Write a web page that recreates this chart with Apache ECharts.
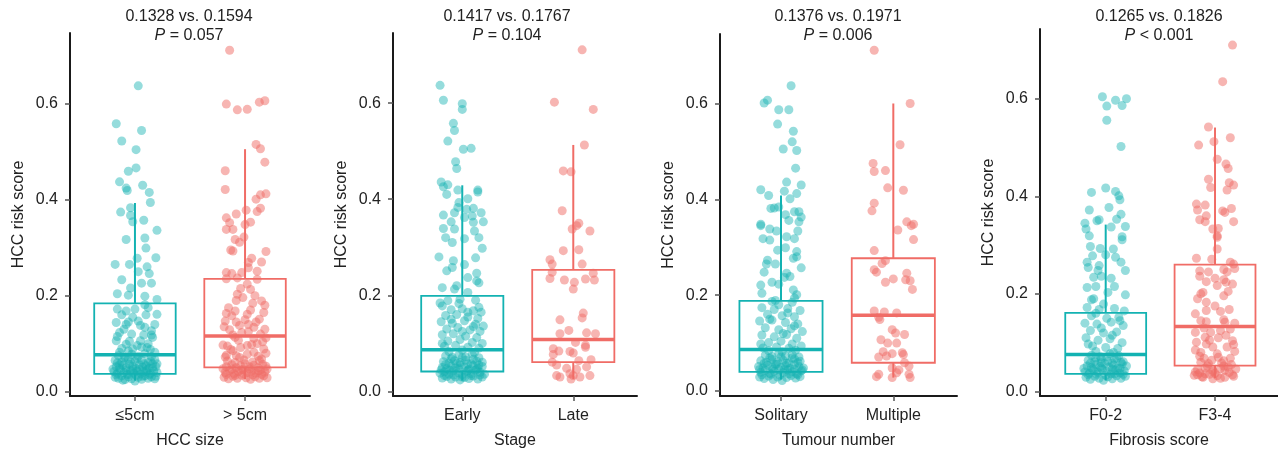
<!DOCTYPE html>
<html>
<head>
<meta charset="utf-8">
<script src="https://cdn.jsdelivr.net/npm/echarts@6/dist/echarts.min.js"></script>
<style>
  html, body { margin: 0; padding: 0; background: #fff; }
  #chart { width: 1278px; height: 454px; }
</style>
</head>
<body>
<div id="chart"></div>
<script>
// categories / titles
const sizeCats = ['≤5cm', '> 5cm']
const stageCats = ['Early', 'Late']
const tumourCats = ['Solitary', 'Multiple']
const fibrosisCats = ['F0-2', 'F3-4']
const axisNames = ['HCC size', 'Stage', 'Tumour number', 'Fibrosis score']
const meanTexts = ['0.1328 vs. 0.1594', '0.1417 vs. 0.1767', '0.1376 vs. 0.1971', '0.1265 vs. 0.1826']
const pTexts = ['= 0.057', '= 0.104', '= 0.006', '< 0.001']
const yTicks = [0, 0.2, 0.4, 0.6]

// box stats: [lower whisker, Q1, median, Q3, upper whisker]
const sizeSmallBox = [0.023, 0.037, 0.077, 0.184, 0.393]
const sizeLargeBox = [0.026, 0.0505, 0.116, 0.235, 0.505]
const stageEarlyBox = [0.023, 0.0415, 0.087, 0.199, 0.429]
const stageLateBox = [0.026, 0.061, 0.108, 0.253, 0.513]
const tumourSolitaryBox = [0.024, 0.040, 0.0865, 0.188, 0.408]
const tumourMultipleBox = [0.028, 0.059, 0.158, 0.277, 0.600]
const fibrosisLowBox = [0.0225, 0.036, 0.0757, 0.161, 0.342]
const fibrosisHighBox = [0.027, 0.053, 0.133, 0.260, 0.541]

// jittered points: [jitter offset, risk score]
const sizeSmallPts = [
  [0.03,0.637],[-0.17,0.558],[0.06,0.544],[-0.12,0.522],[0.01,0.504],[-0.06,0.459],[0.01,0.466],[-0.14,0.437],[0.07,0.430],[-0.08,0.424],
  [-0.07,0.419],[0.13,0.415],[0.14,0.394],[-0.13,0.374],[-0.04,0.383],[-0.04,0.367],[-0.02,0.354],[0.08,0.357],[0.20,0.336],[-0.08,0.317],
  [0.09,0.320],[0.10,0.299],[0.02,0.278],[0.19,0.279],[-0.18,0.265],[-0.05,0.265],[0.11,0.260],[0.13,0.246],[0.03,0.250],[-0.12,0.233],
  [0.06,0.226],[0.15,0.226],[-0.04,0.216],[-0.16,0.204],[-0.06,0.201],[0.09,0.199],[0.20,0.192],[0.09,0.181],
  [-0.16,0.172],[-0.08,0.168],[0.20,0.161],[0.03,0.147],[-0.17,0.144],[-0.08,0.140],[0.09,0.134],[0.15,0.127],[-0.14,0.123],[-0.03,0.120],
  [0.16,0.113],[-0.17,0.106],[0.05,0.106],[-0.08,0.099],[0.11,0.092],[-0.02,0.089],[-0.14,0.082],[0.18,0.082],
  [-0.18,0.030],[-0.15,0.028],[-0.12,0.033],[-0.09,0.025],[-0.06,0.031],[-0.03,0.027],[0.00,0.022],[0.03,0.030],[0.06,0.026],[0.09,0.033],
  [0.12,0.028],[0.15,0.031],[0.18,0.027],[-0.19,0.042],[-0.16,0.038],[-0.13,0.045],[-0.10,0.040],[-0.07,0.036],[-0.04,0.044],[-0.01,0.039],
  [0.02,0.043],[0.05,0.037],[0.08,0.041],[0.11,0.046],[0.14,0.038],[0.17,0.043],[0.20,0.040],[-0.17,0.052],[-0.14,0.049],[-0.11,0.055],
  [-0.08,0.050],[-0.05,0.057],[-0.02,0.053],[0.01,0.048],[0.04,0.056],[0.07,0.051],[0.10,0.054],[0.13,0.049],[0.16,0.058],[0.19,0.052],
  [-0.18,0.065],[-0.12,0.062],[-0.06,0.068],[0.00,0.063],[0.06,0.066],[0.12,0.061],[0.18,0.067],[-0.15,0.075],[-0.09,0.072],[-0.03,0.078],
  [0.03,0.074],[0.09,0.079],[0.15,0.073],[-0.12,0.090],[0.06,0.093],[-0.05,0.105],[0.12,0.100],[0.15,0.118],[-0.10,0.130],[0.05,0.138],
  [-0.02,0.155],[0.10,0.160],[0.00,0.172],
  [-0.17,0.035],[-0.11,0.024],[-0.05,0.036],[0.01,0.034],[0.07,0.032],[0.13,0.035],[0.19,0.032],[-0.20,0.047],[-0.14,0.056],[-0.08,0.045],
  [-0.02,0.046],[0.04,0.047],[0.10,0.043],[0.16,0.050],[-0.16,0.060],[-0.10,0.070],[-0.04,0.062],[0.02,0.069],[0.08,0.058],[0.14,0.064],
  [0.20,0.058],[-0.06,0.085],[0.02,0.096],[0.14,0.088],[-0.16,0.115],[0.08,0.118],[-0.06,0.145],[0.18,0.140],[-0.12,0.160],[0.12,0.175]
]
const sizeLargePts = [
  [-0.14,0.711],[-0.17,0.599],[-0.07,0.587],[0.02,0.588],[0.13,0.603],[0.18,0.606],[0.10,0.515],[0.14,0.506],[0.18,0.478],[-0.18,0.460],
  [-0.18,0.421],[0.14,0.410],[0.19,0.412],[0.10,0.401],[0.01,0.378],[-0.08,0.370],[0.14,0.382],[0.11,0.375],[-0.17,0.362],[0.05,0.353],
  [0.00,0.348],[-0.17,0.338],[-0.11,0.338],[-0.14,0.352],[-0.01,0.322],[-0.09,0.317],[-0.05,0.311],[-0.13,0.295],[-0.11,0.293],[0.19,0.292],
  [0.06,0.278],[0.03,0.269],[0.15,0.270],[0.11,0.251],[-0.17,0.248],[-0.12,0.246],[-0.03,0.248],[0.03,0.258],[0.11,0.234],[-0.07,0.237],
  [-0.17,0.235],[0.02,0.224],[0.05,0.213],[-0.07,0.203],[-0.02,0.196],[0.15,0.189],[0.07,0.184],[-0.17,0.163],[-0.09,0.168],[0.02,0.161],
  [0.17,0.165],[0.13,0.151],[-0.18,0.147],[-0.08,0.145],[0.03,0.140],[0.08,0.134],[0.18,0.130],[-0.14,0.129],[-0.03,0.123],[-0.09,0.113],
  [0.08,0.111],[-0.20,0.097],[0.02,0.096],[0.17,0.089],[-0.11,0.085],[0.08,0.082],[-0.17,0.076],[-0.05,0.071],[0.15,0.068],
  [-0.19,0.030],[-0.15,0.027],[-0.11,0.032],[-0.07,0.028],[-0.03,0.034],[0.01,0.029],[0.05,0.026],[0.09,0.031],[0.13,0.028],[0.17,0.033],
  [0.20,0.029],[-0.18,0.040],[-0.14,0.044],[-0.10,0.038],[-0.06,0.042],[-0.02,0.046],[0.02,0.040],[0.06,0.043],[0.10,0.039],[0.14,0.045],
  [0.18,0.041],[-0.17,0.052],[-0.12,0.056],[-0.08,0.050],[-0.04,0.054],[0.00,0.058],[0.04,0.052],[0.08,0.055],[0.12,0.050],[0.16,0.057],
  [0.19,0.053],[-0.16,0.064],[-0.09,0.061],[-0.01,0.066],[0.07,0.062],[0.13,0.065],[-0.13,0.088],[0.11,0.100],[-0.06,0.107],[0.14,0.120],
  [0.00,0.150],[-0.15,0.175],[0.09,0.200],[-0.04,0.215],
  [-0.17,0.036],[-0.09,0.034],[-0.01,0.037],[0.07,0.035],[0.15,0.036],[-0.20,0.048],[-0.12,0.047],[-0.04,0.045],[0.04,0.047],[0.12,0.044],
  [0.20,0.047],[-0.18,0.072],[-0.08,0.075],[0.02,0.078],[0.12,0.074],[0.19,0.080],[-0.16,0.095],[-0.04,0.092],[0.06,0.098],[0.16,0.104],
  [-0.11,0.118],[0.03,0.125],[0.19,0.112],[-0.19,0.135],[-0.05,0.138],[0.10,0.145],[-0.12,0.158],[0.05,0.170],[0.18,0.180],[-0.08,0.190]
]
const stageEarlyPts = [
  [-0.20,0.637],[-0.17,0.606],[0.00,0.599],[0.00,0.587],[-0.08,0.558],[-0.07,0.543],[-0.13,0.521],[0.01,0.504],[0.08,0.506],[-0.06,0.478],
  [-0.05,0.464],[-0.19,0.436],[-0.17,0.426],[-0.13,0.430],[-0.14,0.410],[-0.04,0.419],[0.14,0.419],[0.14,0.415],[0.05,0.401],[-0.03,0.393],
  [-0.17,0.367],[-0.07,0.372],[-0.04,0.383],[0.04,0.379],[0.10,0.381],[0.17,0.372],[0.02,0.362],[0.09,0.365],[-0.10,0.353],[-0.07,0.338],
  [-0.17,0.339],[0.10,0.352],[0.11,0.334],[0.19,0.353],[-0.15,0.320],[-0.09,0.310],[0.02,0.318],[0.15,0.320],[0.18,0.298],[-0.21,0.280],
  [0.12,0.278],[-0.08,0.272],[0.02,0.264],[-0.14,0.251],[-0.09,0.258],[0.13,0.246],[0.05,0.237],[0.15,0.226],[0.13,0.230],[-0.18,0.216],
  [-0.07,0.213],[-0.05,0.220],[0.05,0.206],[-0.02,0.192],[-0.20,0.184],[-0.13,0.189],[0.15,0.175],
  [-0.18,0.178],[-0.10,0.170],[0.00,0.172],[0.10,0.168],[0.17,0.165],[-0.15,0.158],[-0.05,0.160],[0.05,0.155],[0.14,0.152],[-0.19,0.145],
  [-0.09,0.142],[0.02,0.147],[0.12,0.140],[0.19,0.136],[-0.14,0.130],[-0.04,0.133],[0.07,0.128],[0.16,0.125],[-0.18,0.118],[-0.08,0.120],
  [0.03,0.115],[0.13,0.112],[-0.13,0.105],[-0.02,0.108],[0.09,0.102],[0.18,0.100],[-0.16,0.094],[-0.06,0.096],[0.05,0.092],[0.15,0.090],
  [-0.18,0.028],[-0.14,0.031],[-0.10,0.026],[-0.06,0.030],[-0.02,0.024],[0.02,0.029],[0.06,0.027],[0.10,0.032],[0.14,0.026],[0.18,0.030],
  [-0.20,0.038],[-0.16,0.041],[-0.12,0.036],[-0.08,0.043],[-0.04,0.039],[0.00,0.035],[0.04,0.042],[0.08,0.037],[0.12,0.044],[0.16,0.040],
  [0.20,0.036],[-0.18,0.050],[-0.14,0.047],[-0.10,0.053],[-0.06,0.049],[-0.02,0.055],[0.02,0.051],[0.06,0.046],[0.10,0.054],[0.14,0.048],
  [0.18,0.052],[-0.17,0.062],[-0.12,0.059],[-0.07,0.064],[-0.02,0.060],[0.03,0.065],[0.08,0.058],[0.13,0.063],[0.18,0.061],[-0.15,0.074],
  [-0.09,0.071],[-0.03,0.076],[0.03,0.072],[0.09,0.077],[0.15,0.070],[-0.12,0.083],[0.00,0.086],[0.11,0.081],
  [-0.16,0.033],[-0.08,0.034],[0.00,0.030],[0.08,0.033],[0.16,0.034],[-0.19,0.045],[-0.11,0.044],[-0.03,0.047],[0.05,0.044],[0.13,0.046],
  [-0.15,0.056],[-0.05,0.058],[0.05,0.057],[0.15,0.055],[-0.10,0.068],[0.00,0.070],[0.10,0.067],[-0.18,0.100],[0.00,0.125],[0.10,0.135],
  [-0.10,0.150],[0.05,0.165],[-0.03,0.183],[0.12,0.190]
]
const stageLatePts = [
  [0.08,0.711],[-0.17,0.602],[0.18,0.587],[0.10,0.513],[-0.09,0.459],[-0.02,0.457],[-0.10,0.376],[0.05,0.350],[0.03,0.345],[-0.01,0.338],
  [0.15,0.334],[-0.09,0.293],[0.05,0.295],[-0.21,0.274],[-0.19,0.265],[0.08,0.265],[0.18,0.246],[-0.19,0.248],[-0.21,0.235],[-0.08,0.232],
  [0.01,0.227],[0.11,0.234],[0.19,0.232],[0.00,0.213],[0.09,0.163],[0.08,0.153],[-0.12,0.149],[-0.04,0.127],[-0.12,0.120],[0.12,0.122],
  [0.20,0.120],[0.02,0.102],[0.11,0.096],[-0.18,0.089],[-0.13,0.084],[-0.03,0.083],[0.00,0.080],[0.11,0.092],[-0.18,0.077],[0.05,0.064],
  [0.16,0.066],[-0.19,0.061],[-0.15,0.055],[0.12,0.051],[-0.06,0.048],[0.03,0.046],[-0.03,0.037],[-0.15,0.033],[-0.12,0.030],[0.00,0.033],
  [0.06,0.030],[0.15,0.033],[-0.02,0.026]
]
const tumourSolitaryPts = [
  [0.09,0.637],[-0.15,0.601],[-0.12,0.607],[-0.02,0.587],[0.07,0.587],[-0.03,0.557],[0.11,0.542],[0.10,0.520],[0.02,0.505],[0.14,0.502],
  [0.13,0.465],[0.05,0.436],[0.18,0.430],[-0.18,0.420],[-0.11,0.408],[0.03,0.417],[0.14,0.412],[0.08,0.401],[-0.09,0.381],[-0.06,0.382],
  [-0.02,0.384],[0.04,0.368],[0.12,0.374],[0.16,0.374],[0.18,0.363],[0.07,0.356],[-0.18,0.348],[-0.18,0.345],[0.16,0.353],[-0.10,0.338],
  [-0.04,0.334],[0.15,0.334],[-0.16,0.318],[-0.10,0.315],[0.05,0.322],[0.12,0.318],[-0.03,0.294],[0.04,0.299],[0.14,0.291],[0.11,0.277],
  [0.14,0.280],[-0.12,0.273],[-0.13,0.265],[-0.05,0.265],[0.18,0.257],[-0.15,0.248],[0.05,0.246],[0.03,0.237],[0.08,0.239],[-0.08,0.227],
  [-0.18,0.221],[-0.02,0.223],[-0.17,0.204],[0.11,0.211],[0.14,0.201],[0.12,0.194],[-0.08,0.187],[-0.05,0.189],
  [-0.17,0.174],[-0.06,0.170],[0.06,0.172],[0.17,0.168],[-0.12,0.160],[0.01,0.157],[0.12,0.155],[-0.19,0.146],[-0.08,0.148],[0.04,0.143],
  [0.15,0.140],[-0.14,0.132],[-0.02,0.128],[0.09,0.130],[0.19,0.124],[-0.17,0.117],[-0.06,0.113],[0.05,0.118],[0.14,0.110],[-0.11,0.101],
  [0.00,0.104],[0.10,0.098],[0.18,0.094],[-0.16,0.090],[-0.04,0.092],[0.07,0.089],
  [-0.19,0.029],[-0.15,0.026],[-0.11,0.031],[-0.07,0.024],[-0.03,0.029],[0.01,0.022],[0.05,0.028],[0.09,0.032],[0.13,0.027],[0.17,0.030],
  [-0.18,0.039],[-0.14,0.043],[-0.10,0.037],[-0.06,0.041],[-0.02,0.045],[0.02,0.038],[0.06,0.044],[0.10,0.040],[0.14,0.036],[0.18,0.042],
  [-0.20,0.051],[-0.16,0.048],[-0.12,0.054],[-0.08,0.050],[-0.04,0.056],[0.00,0.049],[0.04,0.053],[0.08,0.047],[0.12,0.055],[0.16,0.051],
  [0.20,0.048],[-0.18,0.063],[-0.13,0.060],[-0.08,0.066],[-0.03,0.061],[0.02,0.064],[0.07,0.059],[0.12,0.067],[0.17,0.062],[-0.14,0.075],
  [-0.08,0.072],[-0.02,0.078],[0.04,0.073],[0.10,0.076],[0.16,0.071],[-0.11,0.084],[0.01,0.082],[0.13,0.085],
  [-0.17,0.034],[-0.09,0.035],[-0.01,0.033],[0.07,0.036],[0.15,0.034],[-0.19,0.045],[-0.07,0.046],[0.03,0.045],[0.12,0.046],[0.19,0.044],
  [-0.15,0.058],[-0.05,0.056],[0.05,0.058],[0.15,0.059],[-0.10,0.069],[0.00,0.071],[0.10,0.069],[-0.18,0.098],[0.02,0.120],[0.12,0.136],
  [-0.10,0.150],[0.06,0.163],[-0.02,0.180],[0.10,0.185]
]
const tumourMultiplePts = [
  [-0.17,0.711],[0.15,0.600],[0.06,0.514],[-0.18,0.475],[-0.17,0.458],[-0.07,0.460],[-0.05,0.424],[0.09,0.419],[-0.17,0.392],[-0.19,0.376],
  [0.12,0.353],[0.18,0.348],[0.16,0.345],[0.04,0.336],[0.18,0.316],[-0.17,0.293],[-0.07,0.272],[-0.10,0.266],[-0.17,0.253],[-0.15,0.248],
  [0.00,0.234],[-0.07,0.227],[0.12,0.246],[0.11,0.232],[0.15,0.230],[0.17,0.212],[-0.17,0.167],[-0.08,0.165],[0.03,0.163],[-0.13,0.154],
  [-0.12,0.149],[-0.01,0.128],[0.02,0.121],[0.10,0.118],[-0.11,0.107],[-0.05,0.100],[0.03,0.100],[-0.09,0.082],[-0.01,0.078],[0.08,0.080],
  [0.09,0.076],[-0.13,0.071],[-0.06,0.073],[0.10,0.059],[0.14,0.052],[-0.01,0.048],[0.05,0.044],[0.03,0.038],[-0.13,0.035],[-0.15,0.030],
  [-0.01,0.028],[0.14,0.035],[0.15,0.028]
]
const fibrosisLowPts = [
  [-0.03,0.604],[0.09,0.597],[0.19,0.600],[0.01,0.585],[0.15,0.586],[0.01,0.556],[0.14,0.502],[0.00,0.417],[-0.13,0.408],[0.09,0.410],
  [0.12,0.401],[0.13,0.393],[0.03,0.377],[-0.15,0.372],[0.14,0.363],[-0.08,0.350],[-0.06,0.352],[0.10,0.353],[-0.19,0.345],[-0.18,0.333],
  [0.05,0.337],[0.18,0.338],[-0.15,0.319],[0.15,0.317],[0.15,0.311],[-0.05,0.293],[-0.14,0.297],[0.07,0.292],[0.00,0.280],[-0.12,0.278],
  [0.09,0.275],[-0.17,0.265],[-0.16,0.254],[0.14,0.265],[-0.06,0.258],[-0.07,0.248],[0.18,0.248],[-0.11,0.234],[-0.04,0.236],[0.05,0.232],
  [-0.17,0.213],[-0.09,0.215],[0.08,0.215],[0.02,0.203],[0.18,0.198],[-0.13,0.188],[-0.11,0.190],[-0.02,0.179],
  [-0.17,0.172],[-0.06,0.168],[0.08,0.170],[0.17,0.165],[-0.13,0.155],[0.01,0.150],[0.12,0.152],[-0.19,0.140],[-0.08,0.138],[0.05,0.142],
  [0.16,0.135],[-0.14,0.125],[-0.02,0.120],[0.10,0.122],[-0.18,0.110],[-0.07,0.105],[0.04,0.108],[0.15,0.100],[-0.12,0.093],[0.00,0.090],
  [0.11,0.088],
  [-0.18,0.029],[-0.14,0.025],[-0.10,0.031],[-0.06,0.027],[-0.02,0.023],[0.02,0.030],[0.06,0.026],[0.10,0.032],[0.14,0.027],[0.18,0.031],
  [-0.19,0.040],[-0.15,0.037],[-0.11,0.043],[-0.07,0.039],[-0.03,0.045],[0.01,0.041],[0.05,0.036],[0.09,0.044],[0.13,0.038],[0.17,0.042],
  [-0.17,0.052],[-0.13,0.049],[-0.09,0.055],[-0.05,0.051],[-0.01,0.057],[0.03,0.050],[0.07,0.054],[0.11,0.048],[0.15,0.056],[0.19,0.052],
  [-0.16,0.064],[-0.10,0.061],[-0.04,0.067],[0.02,0.062],[0.08,0.066],[0.14,0.060],[-0.13,0.074],[-0.05,0.071],[0.04,0.077],[0.12,0.073],
  [-0.09,0.082],[0.07,0.080],
  [-0.16,0.034],[-0.08,0.035],[0.00,0.033],[0.08,0.036],[0.16,0.035],[-0.20,0.047],[-0.12,0.046],[-0.04,0.048],[0.06,0.046],[0.13,0.047],
  [-0.14,0.058],[-0.04,0.059],[0.06,0.058],[0.16,0.061],[-0.09,0.069],[0.01,0.071],[0.10,0.068],[-0.16,0.097],[0.06,0.115],[-0.04,0.130],
  [0.13,0.145],[-0.09,0.160]
]
const fibrosisHighPts = [
  [0.16,0.710],[0.07,0.635],[-0.06,0.542],[0.14,0.520],[-0.01,0.512],[-0.15,0.505],[0.02,0.476],[0.10,0.466],[0.12,0.457],[-0.06,0.435],
  [0.13,0.428],[0.17,0.423],[-0.04,0.418],[0.11,0.413],[-0.17,0.384],[-0.09,0.382],[0.15,0.375],[-0.16,0.372],[0.07,0.370],[0.09,0.367],
  [-0.08,0.360],[-0.14,0.352],[0.17,0.348],[-0.09,0.348],[-0.02,0.333],[0.03,0.334],[0.02,0.319],[0.02,0.316],[0.02,0.292],[-0.17,0.273],
  [-0.03,0.271],[0.14,0.265],[0.17,0.261],[-0.14,0.247],[-0.06,0.245],[0.08,0.250],[0.11,0.245],[0.18,0.252],[-0.14,0.236],[0.00,0.232],
  [-0.08,0.225],[0.08,0.229],[0.10,0.224],[0.16,0.220],[0.02,0.217],[-0.13,0.200],[-0.11,0.203],[0.08,0.196],[-0.08,0.183],[-0.18,0.159],
  [-0.08,0.166],[0.05,0.164],[0.13,0.168],[-0.13,0.145],[-0.08,0.143],[0.08,0.147],[0.09,0.142],[-0.18,0.121],[-0.04,0.121],[0.05,0.125],
  [0.14,0.128],[-0.09,0.111],[0.16,0.104],[-0.17,0.101],[-0.08,0.097],[-0.02,0.091],[0.11,0.091],[-0.13,0.080],[0.18,0.082],[0.02,0.077],
  [-0.14,0.072],[0.08,0.063],[-0.06,0.057],[0.15,0.055],[-0.18,0.040],[-0.09,0.036],[-0.02,0.041],[0.09,0.043],[-0.11,0.029],[0.05,0.027],
  [0.17,0.031],[-0.02,0.026],[-0.16,0.034],
  [-0.19,0.033],[-0.12,0.030],[-0.05,0.035],[0.02,0.032],[0.09,0.029],[0.16,0.034],[-0.16,0.045],[-0.09,0.048],[-0.02,0.044],[0.05,0.047],
  [0.12,0.050],[0.19,0.046],[-0.13,0.060],[-0.03,0.064],[0.06,0.058],[0.14,0.068],[-0.18,0.085],[0.03,0.110],[-0.10,0.130],[0.18,0.140],
  [0.00,0.175],[-0.16,0.190],[0.12,0.205],
  [-0.14,0.038],[0.00,0.037],[0.13,0.039],[-0.07,0.052],[0.08,0.052],[-0.10,0.068],[0.03,0.070],[0.17,0.096],[-0.05,0.105],[0.10,0.115]
]

const panelCats = [sizeCats, stageCats, tumourCats, fibrosisCats]
const panelBoxes = [[sizeSmallBox, sizeLargeBox], [stageEarlyBox, stageLateBox], [tumourSolitaryBox, tumourMultipleBox], [fibrosisLowBox, fibrosisHighBox]]
const panelPts = [[sizeSmallPts, sizeLargePts], [stageEarlyPts, stageLatePts], [tumourSolitaryPts, tumourMultiplePts], [fibrosisLowPts, fibrosisHighPts]]

// layout of the four panels (pixels / axis extents)
const layout = [
  { left: 70, right: 968, top: 33, bottom: 57, xMin: 0.41, xMax: 2.59, yMin: -0.009, yMax: 0.747, titleX: 189 },
  { left: 393, right: 641, top: 33, bottom: 57, xMin: 0.376, xMax: 2.574, yMin: -0.0095, yMax: 0.746, titleX: 507 },
  { left: 720, right: 321, top: 34, bottom: 56, xMin: 0.457, xMax: 2.567, yMin: -0.0104, yMax: 0.745, titleX: 838 },
  { left: 1040, right: 0, top: 29, bottom: 57, xMin: 0.399, xMax: 2.576, yMin: -0.0094, yMax: 0.743, titleX: 1159 }
]

const FONT = "'Liberation Sans', Arial, Helvetica, sans-serif"
const TEXT = '#222'
const colors = ['#13B2B2', '#F06C66']
const BOX_W = 0.74

function renderBox (color) {
  return function (params, api) {
    const x = api.value(0)
    const low = api.coord([x, api.value(1)])
    const q1 = api.coord([x, api.value(2)])
    const med = api.coord([x, api.value(3)])
    const q3 = api.coord([x, api.value(4)])
    const high = api.coord([x, api.value(5)])
    const half = api.size([BOX_W, 0])[0] / 2
    return {
      type: 'group',
      children: [
        { type: 'line', shape: { x1: high[0], y1: high[1], x2: q3[0], y2: q3[1] }, style: { stroke: color, lineWidth: 2 } },
        { type: 'line', shape: { x1: q1[0], y1: q1[1], x2: low[0], y2: low[1] }, style: { stroke: color, lineWidth: 2 } },
        { type: 'rect', shape: { x: q3[0] - half, y: q3[1], width: half * 2, height: q1[1] - q3[1] }, style: { fill: 'none', stroke: color, lineWidth: 1.8 } },
        { type: 'line', shape: { x1: med[0] - half, y1: med[1], x2: med[0] + half, y2: med[1] }, style: { stroke: color, lineWidth: 3.5 } }
      ]
    }
  }
}

const grid = []
const xAxis = []
const yAxis = []
const title = []
const series = []

layout.forEach((l, i) => {
  grid.push({ left: l.left, right: l.right, top: l.top, bottom: l.bottom })
  const cats = panelCats[i]
  xAxis.push({
    gridIndex: i, type: 'value', min: l.xMin, max: l.xMax,
    name: axisNames[i], nameLocation: 'middle', nameGap: 37,
    nameTextStyle: { fontFamily: FONT, fontSize: 16, color: TEXT },
    splitLine: { show: false },
    axisLine: { show: true, onZero: false, lineStyle: { color: '#1a1a1a', width: 2 } },
    axisTick: { show: true, customValues: [1, 2], length: 5, lineStyle: { color: '#555', width: 1.5 } },
    axisLabel: { customValues: [1, 2], margin: 12, fontFamily: FONT, fontSize: 16, color: TEXT, formatter: v => cats[Math.round(v) - 1] }
  })
  yAxis.push({
    gridIndex: i, type: 'value', min: l.yMin, max: l.yMax,
    name: 'HCC risk score', nameLocation: 'middle', nameGap: 43, nameRotate: 90,
    nameTextStyle: { fontFamily: FONT, fontSize: 16, color: TEXT },
    splitLine: { show: false },
    axisLine: { show: true, onZero: false, lineStyle: { color: '#1a1a1a', width: 2 } },
    axisTick: { show: true, customValues: yTicks, length: 5, lineStyle: { color: '#555', width: 1.5 } },
    axisLabel: { customValues: yTicks, margin: 12, fontFamily: FONT, fontSize: 16, color: TEXT, formatter: v => v.toFixed(1) }
  })
  title.push({
    text: meanTexts[i],
    subtext: '{i|P} ' + pTexts[i],
    left: l.titleX, top: 8, textAlign: 'center', padding: 0, itemGap: 1,
    textStyle: { fontFamily: FONT, fontSize: 16, fontWeight: 'normal', color: TEXT, lineHeight: 18 },
    subtextStyle: {
      fontFamily: FONT, fontSize: 16, color: TEXT, lineHeight: 18,
      rich: { i: { fontFamily: FONT, fontSize: 16, fontStyle: 'italic', color: TEXT } }
    }
  })
  for (let g = 0; g < 2; g++) {
    series.push({
      type: 'scatter', xAxisIndex: i, yAxisIndex: i, silent: true,
      symbolSize: 9,
      itemStyle: { color: colors[g], opacity: g === 0 ? 0.45 : 0.5 },
      data: panelPts[i][g].map(p => [g + 1 + p[0], p[1]])
    })
  }
  for (let g = 0; g < 2; g++) {
    series.push({
      type: 'custom', xAxisIndex: i, yAxisIndex: i, silent: true, z: 5,
      renderItem: renderBox(colors[g]),
      data: [[g + 1].concat(panelBoxes[i][g])]
    })
  }
})

const chart = echarts.init(document.getElementById('chart'), null, { renderer: 'canvas' })
chart.setOption({
  animation: false,
  backgroundColor: '#fff',
  title: title,
  grid: grid,
  xAxis: xAxis,
  yAxis: yAxis,
  series: series
})
</script>
</body>
</html>
